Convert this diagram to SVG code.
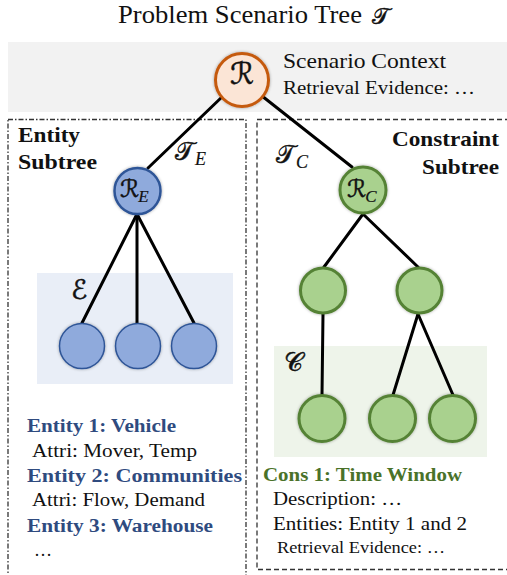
<svg xmlns="http://www.w3.org/2000/svg" width="507" height="575" viewBox="0 0 507 575">
<style>
.t{font-family:"Liberation Serif","Times New Roman",serif;fill:#111}
.b{font-weight:bold}
.m{font-family:"DejaVu Serif","DejaVu Sans","Noto Sans",serif;fill:#111;stroke:#111;stroke-width:0.5}
.s{font-family:"Liberation Serif","Times New Roman",serif;font-style:italic;stroke-width:0.2}
.edge{stroke:#000;stroke-width:3;fill:none;stroke-linecap:round}
.blue{fill:#8faadc;stroke:#2f5597}
.green{fill:#a9d18e;stroke:#548235;stroke-width:3}
.navy{fill:#2f4b7f}
.olive{fill:#4a7229}
</style>
<defs>
<filter id="sh" x="-30%" y="-30%" width="160%" height="160%">
<feDropShadow dx="0" dy="0" stdDeviation="1.5" flood-color="#000" flood-opacity="0.35"/>
</filter>
</defs>
<rect width="507" height="575" fill="#fff"/>
<text class="t" x="118" y="23" font-size="25" textLength="244" lengthAdjust="spacingAndGlyphs">Problem Scenario Tree</text>
<text class="m" x="372" y="24" font-size="23">𝒯</text>
<rect id="context-band" x="8" y="42" width="499" height="70" fill="#f2f2f2"/>
<g id="entity-subtree-box">
<rect x="8" y="119.5" width="238" height="470" fill="none" stroke="#333" stroke-width="1.3" stroke-dasharray="5 2 1.5 2"/>
<text class="t b" x="18" y="142" font-size="21" textLength="62" lengthAdjust="spacingAndGlyphs">Entity</text>
<text class="t b" x="18" y="169" font-size="21" textLength="79" lengthAdjust="spacingAndGlyphs">Subtree</text>
</g>
<g id="constraint-subtree-box">
<rect x="257" y="119.5" width="270" height="450" fill="none" stroke="#333" stroke-width="1.3" stroke-dasharray="5 3"/>
<text class="t b" x="392" y="146" font-size="21" textLength="107" lengthAdjust="spacingAndGlyphs">Constraint</text>
<text class="t b" x="422" y="174" font-size="21" textLength="77" lengthAdjust="spacingAndGlyphs">Subtree</text>
</g>
<rect id="entity-band" x="37" y="273" width="196" height="111" fill="#e9eef7"/>
<rect id="constraint-band" x="274" y="346" width="213" height="111" fill="#eef4ea"/>
<g id="connectors">
<line class="edge" x1="223" y1="96" x2="148" y2="168"/>
<line class="edge" x1="262" y1="96" x2="352" y2="167"/>
<line class="edge" x1="137" y1="214" x2="82" y2="323"/>
<line class="edge" x1="137" y1="214" x2="137" y2="323"/>
<line class="edge" x1="137" y1="214" x2="194" y2="323"/>
<line class="edge" x1="363" y1="214" x2="324" y2="267"/>
<line class="edge" x1="363" y1="214" x2="418" y2="267"/>
<line class="edge" x1="323" y1="314" x2="322" y2="395"/>
<line class="edge" x1="418" y1="314" x2="393" y2="395"/>
<line class="edge" x1="418" y1="314" x2="453" y2="395"/>
</g>
<g id="root">
<circle cx="242" cy="80" r="26.5" fill="#fbe5d6" stroke="#c55a11" stroke-width="3" filter="url(#sh)"/>
<text class="m" x="242" y="84" font-size="30" text-anchor="middle">ℛ</text>
</g>
<g id="root-text">
<text class="t" x="283" y="68" font-size="21" textLength="163" lengthAdjust="spacingAndGlyphs">Scenario Context</text>
<text class="t" x="283" y="94" font-size="19" textLength="192" lengthAdjust="spacingAndGlyphs">Retrieval Evidence: …</text>
</g>
<g id="label-TE"><text class="m" x="175" y="160" font-size="25">𝒯<tspan class="s" font-size="18" dy="5" dx="1">E</tspan></text></g>
<g id="label-TC"><text class="m" x="276" y="163" font-size="25">𝒯<tspan class="s" font-size="18" dy="5" dx="1">C</tspan></text></g>
<g id="entity-root">
<circle class="blue" cx="137.5" cy="191" r="23" stroke-width="2.5" filter="url(#sh)"/>
<text class="m" x="120" y="197" font-size="24">ℛ<tspan class="s" font-size="17" dy="5" dx="-1">E</tspan></text>
</g>
<g id="constraint-root">
<circle class="green" cx="363" cy="190" r="23" filter="url(#sh)"/>
<text class="m" x="347" y="197" font-size="24">ℛ<tspan class="s" font-size="17" dy="5" dx="-1">C</tspan></text>
</g>
<g id="label-E"><text class="m" x="71" y="299" font-size="27">ℰ</text></g>
<g id="entity-1"><circle class="blue" cx="82" cy="346" r="22.5" stroke-width="1.5" filter="url(#sh)"/></g>
<g id="entity-2"><circle class="blue" cx="138" cy="346" r="22.5" stroke-width="1.5" filter="url(#sh)"/></g>
<g id="entity-3"><circle class="blue" cx="194" cy="346" r="22.5" stroke-width="1.5" filter="url(#sh)"/></g>
<g id="constraint-mid-1"><circle class="green" cx="323" cy="290.5" r="22.5" filter="url(#sh)"/></g>
<g id="constraint-mid-2"><circle class="green" cx="419.5" cy="290.5" r="22.5" filter="url(#sh)"/></g>
<g id="label-C"><text class="m" x="284" y="371" font-size="26">𝒞</text></g>
<g id="constraint-1"><circle class="green" cx="322" cy="418.5" r="23" filter="url(#sh)"/></g>
<g id="constraint-2"><circle class="green" cx="392.5" cy="418.5" r="23" filter="url(#sh)"/></g>
<g id="constraint-3"><circle class="green" cx="452.5" cy="418.5" r="23" filter="url(#sh)"/></g>
<g id="entity-list">
<text class="t b navy" x="27" y="432" font-size="18.5" textLength="149" lengthAdjust="spacingAndGlyphs">Entity 1: Vehicle</text>
<text class="t" x="32" y="457" font-size="18" textLength="165" lengthAdjust="spacingAndGlyphs">Attri: Mover, Temp</text>
<text class="t b navy" x="27" y="482" font-size="18.5" textLength="215" lengthAdjust="spacingAndGlyphs">Entity 2: Communities</text>
<text class="t" x="32" y="506" font-size="18" textLength="173" lengthAdjust="spacingAndGlyphs">Attri: Flow, Demand</text>
<text class="t b navy" x="27" y="532" font-size="18.5" textLength="186" lengthAdjust="spacingAndGlyphs">Entity 3: Warehouse</text>
<text class="t" x="34" y="556" font-size="18">…</text>
</g>
<g id="constraint-list">
<text class="t b olive" x="263" y="481" font-size="19" textLength="199" lengthAdjust="spacingAndGlyphs">Cons 1: Time Window</text>
<text class="t" x="273" y="505" font-size="18" textLength="129" lengthAdjust="spacingAndGlyphs">Description: …</text>
<text class="t" x="273" y="530" font-size="18" textLength="194" lengthAdjust="spacingAndGlyphs">Entities: Entity 1 and 2</text>
<text class="t" x="277" y="553" font-size="16" textLength="168" lengthAdjust="spacingAndGlyphs">Retrieval Evidence: …</text>
</g>
</svg>
